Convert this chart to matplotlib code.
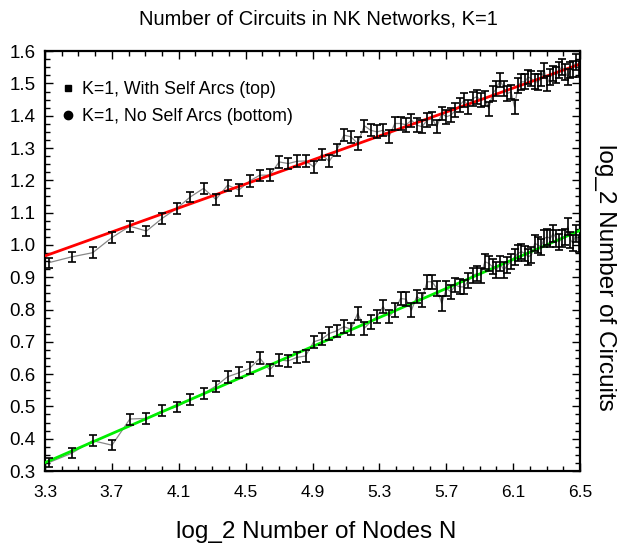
"""
Number of circuits in NK networks (K=1), log-log scale, with linear fits.
"""

import numpy as np
import matplotlib
matplotlib.use("Agg")
import matplotlib.pyplot as plt
from matplotlib.ticker import MultipleLocator, FixedLocator
from matplotlib.lines import Line2D

plt.rcParams["font.family"] = ["Liberation Sans", "DejaVu Sans"]

# number of nodes N = 10..90
nodes = list(range(10, 91))

# log_2 number of circuits, with self arcs (top series)
self_arcs = [
    0.945, 0.963, 0.976, 1.023, 1.058, 1.043, 1.082, 1.113, 1.149, 1.175,
    1.141, 1.185, 1.170, 1.198, 1.216, 1.216, 1.257, 1.252, 1.259, 1.260,
    1.242, 1.280, 1.259, 1.293, 1.340, 1.335, 1.314, 1.369, 1.355, 1.350,
    1.355, 1.335, 1.376, 1.376, 1.372, 1.386, 1.371, 1.366, 1.386, 1.391,
    1.366, 1.407, 1.397, 1.402, 1.417, 1.433, 1.448, 1.427, 1.453, 1.459,
    1.448, 1.453, 1.422, 1.469, 1.484, 1.510, 1.484, 1.469, 1.474, 1.427,
    1.494, 1.505, 1.505, 1.520, 1.515, 1.505, 1.505, 1.515, 1.541, 1.500,
    1.520, 1.531, 1.526, 1.541, 1.551, 1.536, 1.520, 1.541, 1.546, 1.567,
    1.546,
]
self_arcs_err = [
    0.016, 0.016, 0.017, 0.016, 0.017, 0.016, 0.017, 0.017, 0.016, 0.017,
    0.017, 0.017, 0.018, 0.018, 0.017, 0.018, 0.018, 0.018, 0.019, 0.018,
    0.019, 0.018, 0.019, 0.019, 0.018, 0.019, 0.020, 0.019, 0.019, 0.020,
    0.019, 0.020, 0.020, 0.020, 0.021, 0.020, 0.021, 0.020, 0.021, 0.021,
    0.020, 0.021, 0.022, 0.021, 0.021, 0.022, 0.021, 0.022, 0.022, 0.022,
    0.022, 0.023, 0.022, 0.022, 0.023, 0.022, 0.023, 0.023, 0.022, 0.023,
    0.023, 0.024, 0.023, 0.023, 0.024, 0.023, 0.024, 0.024, 0.023, 0.024,
    0.024, 0.024, 0.025, 0.024, 0.024, 0.025, 0.024, 0.025, 0.025, 0.024,
    0.025,
]

# log_2 number of circuits, no self arcs (bottom series)
no_self_arcs = [
    0.326, 0.355, 0.394, 0.380, 0.461, 0.463, 0.486, 0.499, 0.522, 0.540,
    0.563, 0.592, 0.604, 0.618, 0.649, 0.613, 0.644, 0.641, 0.652, 0.656,
    0.700, 0.708, 0.726, 0.734, 0.747, 0.739, 0.788, 0.742, 0.762, 0.778,
    0.809, 0.778, 0.798, 0.834, 0.832, 0.798, 0.840, 0.829, 0.886, 0.886,
    0.865, 0.819, 0.865, 0.855, 0.876, 0.870, 0.870, 0.891, 0.906, 0.911,
    0.906, 0.948, 0.943, 0.932, 0.922, 0.943, 0.922, 0.938, 0.948, 0.963,
    0.974, 0.979, 0.974, 0.963, 0.969, 1.005, 1.000, 0.994, 1.020, 1.025,
    1.020, 1.036, 1.020, 1.010, 1.020, 1.025, 1.056, 1.015, 1.005, 1.036,
    1.005,
]
no_self_arcs_err = [
    0.015, 0.015, 0.016, 0.016, 0.017, 0.016, 0.017, 0.016, 0.017, 0.017,
    0.017, 0.018, 0.017, 0.018, 0.018, 0.018, 0.019, 0.018, 0.018, 0.019,
    0.019, 0.019, 0.020, 0.019, 0.020, 0.019, 0.020, 0.020, 0.021, 0.020,
    0.021, 0.020, 0.021, 0.021, 0.022, 0.021, 0.021, 0.022, 0.022, 0.021,
    0.022, 0.022, 0.023, 0.022, 0.022, 0.023, 0.022, 0.023, 0.023, 0.023,
    0.023, 0.024, 0.023, 0.023, 0.024, 0.023, 0.024, 0.024, 0.024, 0.024,
    0.025, 0.024, 0.024, 0.025, 0.024, 0.025, 0.025, 0.024, 0.025, 0.025,
    0.025, 0.026, 0.025, 0.025, 0.026, 0.025, 0.026, 0.026, 0.025, 0.026,
    0.026,
]

# linear fits, evaluated at the ends of the x range
fit_x = [3.3, 6.5]
self_arcs_fit = [0.966, 1.560]
no_self_arcs_fit = [0.326, 1.045]

x_ticks = [3.3, 3.7, 4.1, 4.5, 4.9, 5.3, 5.7, 6.1, 6.5]

x = np.log2(nodes)

fig = plt.figure(figsize=(6.36, 5.5), dpi=100)
ax = fig.add_axes([0.0708, 0.1436, 0.8412, 0.7634])

for y, err, fit, col in [
    (self_arcs, self_arcs_err, self_arcs_fit, "#ff0000"),
    (no_self_arcs, no_self_arcs_err, no_self_arcs_fit, "#00ee00"),
]:
    ax.plot(x, y, color="#888888", lw=0.9, zorder=2)
    ax.plot(fit_x, fit, color=col, lw=2.0, zorder=3)
    ax.errorbar(x, y, yerr=err, fmt="none", ecolor="black", elinewidth=1.2,
                capsize=3.2, capthick=1.2, zorder=4)

ax.set_xlim(3.3, 6.5)
ax.set_ylim(0.3, 1.6)
ax.xaxis.set_major_locator(FixedLocator(x_ticks))
ax.set_xticklabels([f"{t:.1f}" for t in x_ticks])
ax.xaxis.set_minor_locator(MultipleLocator(0.1))
ax.yaxis.set_major_locator(MultipleLocator(0.1))
ax.yaxis.set_minor_locator(MultipleLocator(0.025))
ax.tick_params(which="both", direction="in", top=True, right=True,
               width=1.0, colors="black")
ax.tick_params(which="major", length=6)
ax.tick_params(which="minor", length=3.5)
ax.tick_params(axis="y", labelsize=13.5, pad=7)
ax.tick_params(axis="x", labelsize=12.5, pad=10)
for s in ax.spines.values():
    s.set_linewidth(1.6)

fig.text(0.5, 0.966, "Number of Circuits in NK Networks, K=1",
         ha="center", va="center", fontsize=14.5)
fig.text(0.497, 0.033, "log_2 Number of Nodes N",
         ha="center", va="center", fontsize=17.5)
fig.text(0.952, 0.495, "log_2 Number of Circuits", rotation=270,
         ha="center", va="center", fontsize=17.5)

handles = [
    Line2D([], [], ls="none", marker="s", ms=5, color="black"),
    Line2D([], [], ls="none", marker="o", ms=6, color="black"),
]
ax.legend(handles, ["K=1, With Self Arcs (top)", "K=1, No Self Arcs (bottom)"],
          loc="upper left", bbox_to_anchor=(0.02, 0.945), frameon=False,
          fontsize=12.8, handlelength=0.6, handletextpad=0.45, labelspacing=0.55,
          borderaxespad=0)

fig.savefig("out.png", dpi=100)
